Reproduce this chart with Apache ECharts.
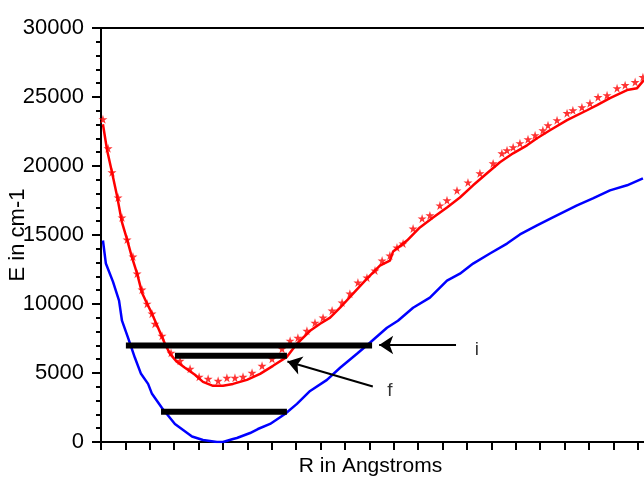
<!DOCTYPE html>
<html>
<head>
<meta charset="utf-8">
<script src="https://cdn.jsdelivr.net/npm/echarts@6/dist/echarts.min.js"></script>
<style>
html,body{margin:0;padding:0;background:#fff;}
#chart{width:644px;height:479px;}
</style>
</head>
<body>
<div id="chart"></div>
<script>
// Ground state (blue line)
const blueR = [1.508,1.520,1.549,1.574,1.586,1.611,1.639,1.664,1.693,1.709,1.750,1.803,1.873,1.918,1.975,2.000,2.041,2.057,2.111,2.143,2.193,2.254,2.303,2.357,2.426,2.480,2.549,2.602,2.672,2.717,2.779,2.848,2.918,2.971,3.025,3.094,3.164,3.217,3.287,3.352,3.451,3.516,3.586,3.656,3.721];
const blueE = [14600,12930,11620,10240,8790,7550,6100,4940,4210,3490,2470,1310,400,145,0,0,220,290,650,940,1310,2030,2760,3700,4500,5380,6390,7190,8280,8790,9730,10460,11690,12200,12930,13660,14380,15040,15690,16270,17140,17650,18230,18600,19100];
// Excited state (red line)
const redR = [1.508,1.525,1.545,1.566,1.586,1.607,1.627,1.648,1.668,1.689,1.709,1.734,1.762,1.783,1.811,1.844,1.885,1.918,1.959,2.000,2.041,2.098,2.152,2.205,2.262,2.303,2.357,2.398,2.439,2.480,2.533,2.590,2.643,2.684,2.697,2.754,2.807,2.861,2.918,2.971,3.025,3.082,3.135,3.189,3.246,3.287,3.340,3.410,3.492,3.533,3.586,3.656,3.697,3.725];
const redE = [23030,21140,19540,17800,15910,14670,13370,12200,10820,10020,9300,8280,7120,6390,5810,5380,4870,4360,4070,4070,4210,4500,4940,5520,6170,7120,8060,8570,9010,9730,10750,11840,12780,13150,13800,14600,15550,16270,17000,17720,18600,19470,20270,20920,21500,22010,22590,23320,24040,24410,24920,25500,25640,26220];
// Excited state (red stars)
const starR = [1.508,1.529,1.545,1.570,1.586,1.607,1.631,1.648,1.668,1.689,1.709,1.721,1.750,1.787,1.824,1.865,1.902,1.939,1.980,2.016,2.049,2.082,2.119,2.160,2.201,2.242,2.275,2.307,2.344,2.377,2.410,2.447,2.488,2.520,2.553,2.590,2.623,2.652,2.684,2.713,2.738,2.779,2.816,2.848,2.889,2.918,2.959,3.004,3.053,3.107,3.143,3.164,3.189,3.217,3.250,3.279,3.311,3.332,3.369,3.410,3.434,3.471,3.504,3.537,3.574,3.615,3.648,3.689,3.721];
const starE = [23390,21280,19540,17720,16270,14670,13440,12200,11040,10020,9300,8570,7700,6460,5880,5300,4720,4580,4430,4650,4650,4720,5010,5520,6030,6760,7340,7550,8060,8640,9010,9520,10100,10750,11550,11910,12420,13150,13510,14090,14380,15470,16200,16420,17140,17510,18230,18810,19470,20190,20920,21140,21360,21650,21940,22230,22590,22950,23320,23830,24040,24260,24550,24990,25130,25640,25860,26080,26440];
// Vibrational level bars
const barI = [[1.602, 7000], [2.611, 7000]];
const barF = [[1.803, 6250], [2.262, 6250]];
const barG = [[1.746, 2190], [2.262, 2190]];
// Arrows (tail, tip)
const arrowI = [[2.955, 7030], [2.640, 7030]];
const arrowF = [[2.614, 4020], [2.264, 5830]];
// Annotation labels
const labelNames = ['i', 'f'];
const labelPos = [[3.040, 6680], [2.684, 3700]];

const zip = (a, b) => a.map((v, i) => [v, b[i]]);
const FONT = 'Liberation Sans, Arial, sans-serif';
const starPath = 'path://M50,0 L61,35 L98,35 L68,57 L79,91 L50,70 L21,91 L32,57 L2,35 L39,35 Z';

const chart = echarts.init(document.getElementById('chart'), null, {renderer: 'canvas'});
const barSeries = (d) => ({
  type: 'line', data: d, symbol: 'none', silent: true,
  lineStyle: {color: '#000', width: 6, cap: 'butt'}, z: 5
});
chart.setOption({
  animation: false,
  backgroundColor: '#fff',
  grid: {left: 101, top: 28, bottom: 37, right: -6, containLabel: false, outerBoundsMode: 'none'},
  xAxis: [{
    type: 'value', min: 1.5, max: 3.75, interval: 0.1,
    name: 'R in Angstroms', nameLocation: 'middle', nameGap: 14, nameMoveOverlap: false,
    nameTextStyle: {fontSize: 21, fontFamily: FONT, color: '#000', padding: [0, 10, 0, 0]},
    axisLine: {show: true, lineStyle: {color: '#000', width: 2}},
    axisTick: {show: true, length: 8, lineStyle: {color: '#000', width: 2}},
    axisLabel: {show: false},
    splitLine: {show: false}
  }, {
    type: 'value', position: 'top', min: 1.5, max: 3.75,
    axisLine: {show: true, onZero: false, lineStyle: {color: '#000', width: 2}},
    axisTick: {show: false}, axisLabel: {show: false}, splitLine: {show: false}
  }],
  yAxis: {
    type: 'value', min: 0, max: 30000, interval: 5000,
    name: 'E in cm-1', nameLocation: 'middle', nameGap: 72, nameMoveOverlap: false,
    nameTextStyle: {fontSize: 22, fontFamily: FONT, color: '#000'},
    axisLine: {show: true, lineStyle: {color: '#000', width: 2}},
    axisTick: {show: true, length: 9, lineStyle: {color: '#000', width: 2}},
    minorTick: {show: true, splitNumber: 5, length: 5, lineStyle: {color: '#000', width: 2}},
    axisLabel: {fontSize: 22, fontFamily: FONT, color: '#000', margin: 17, formatter: (v) => String(v)},
    splitLine: {show: false}, minorSplitLine: {show: false}
  },
  series: [
    {type: 'line', data: zip(blueR, blueE), symbol: 'none', lineStyle: {color: '#0000ff', width: 2.5}, itemStyle: {color: '#0000ff'}},
    {type: 'line', data: zip(redR, redE), symbol: 'none', lineStyle: {color: '#ff0000', width: 2.5}, itemStyle: {color: '#ff0000'}},
    {type: 'scatter', data: zip(starR, starE), symbol: starPath, symbolSize: 9, itemStyle: {color: '#ff0000'}},
    barSeries(barI), barSeries(barF), barSeries(barG),
    {type: 'lines', coordinateSystem: 'cartesian2d', symbol: ['none', 'arrow'], symbolSize: 14,
     lineStyle: {color: '#000', width: 2, opacity: 1}, z: 6,
     data: [{coords: arrowI}, {coords: arrowF}]},
    {type: 'scatter', symbolSize: 1, itemStyle: {color: 'transparent'},
     data: labelNames.map((n, i) => ({name: n, value: labelPos[i]})),
     label: {show: true, position: 'inside', formatter: '{b}', fontSize: 19, fontFamily: FONT, color: '#000'}}
  ]
});
</script>
</body>
</html>
